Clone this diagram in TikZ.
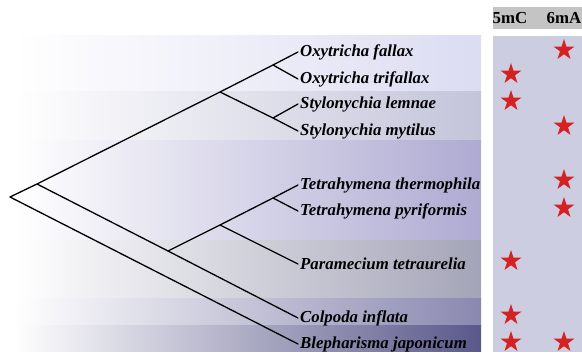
\documentclass[tikz,border=0pt]{standalone}
\usepackage{fontspec}
\setmainfont{Liberation Serif}
\usetikzlibrary{shapes.geometric}

\definecolor{bandA}{HTML}{DCDCF2}
\definecolor{bandB}{HTML}{C4C4DA}
\definecolor{bandC}{HTML}{AEAAD2}
\definecolor{bandD}{HTML}{A4A4B8}
\definecolor{bandE}{HTML}{8A88B0}
\definecolor{bandF}{HTML}{5A588A}
\definecolor{panel}{HTML}{CDCDE2}
\definecolor{head}{HTML}{C4C4C4}
\definecolor{starred}{HTML}{D42222}

\tikzset{
  branch/.style={line width=1.3pt,line cap=round},
  taxon/.style={anchor=west,inner sep=0pt,font=\fontsize{16.8}{18}\selectfont\bfseries\itshape},
  colhead/.style={inner sep=0pt,font=\fontsize{16.8}{18}\selectfont\bfseries},
  hit/.style={star,star points=5,star point ratio=2.6,fill=starred,inner sep=0pt,minimum size=22pt}
}

\begin{document}
\begin{tikzpicture}[x=1pt,y=-1pt]
  \useasboundingbox (0,0) rectangle (582,355);
  % background bands
  \shade[left color=white,right color=bandA] (14,36) rectangle (481,92);
  \shade[left color=white,right color=bandB] (14,92) rectangle (481,141);
  \shade[left color=white,right color=bandC] (14,141) rectangle (481,241);
  \shade[left color=white,right color=bandD] (14,241) rectangle (481,299);
  \shade[left color=white,right color=bandE] (14,299) rectangle (481,326);
  \shade[left color=white,right color=bandF] (14,326) rectangle (481,352);
  \fill[panel] (493,36) rectangle (582,352);
  \fill[head] (493,7) rectangle (582,29);
  \node[colhead] (h5mc) at (510,18) {5mC};
  \node[colhead] (h6ma) at (564,18) {6mA};

  % taxa
  \node[taxon] (ofal) at (300,52) {Oxytricha fallax};
  \node[taxon] (otri) at (300,79) {Oxytricha trifallax};
  \node[taxon] (slem) at (300,104) {Stylonychia lemnae};
  \node[taxon] (smyt) at (300,131) {Stylonychia mytilus};
  \node[taxon] (tthe) at (300,185) {Tetrahymena thermophila};
  \node[taxon] (tpyr) at (300,211) {Tetrahymena pyriformis};
  \node[taxon] (ptet) at (300,264) {Paramecium tetraurelia};
  \node[taxon] (cinf) at (300,318) {Colpoda inflata};
  \node[taxon] (bjap) at (300,344) {Blepharisma japonicum};

  % inner nodes of the tree
  \coordinate (root) at (10,197);
  \coordinate (cil) at (37,184);
  \coordinate (spiro) at (220,92);
  \coordinate (oxy) at (273,65);
  \coordinate (sty) at (273,118);
  \coordinate (olig) at (168,251);
  \coordinate (tpp) at (220,225);
  \coordinate (tet) at (273,198);

  \draw[branch] (root) -- (cil) -- (spiro) -- (oxy) -- ([xshift=-2pt]ofal.west);
  \draw[branch] (oxy) -- ([xshift=-2pt]otri.west);
  \draw[branch] (spiro) -- (sty) -- ([xshift=-2pt]slem.west);
  \draw[branch] (sty) -- ([xshift=-2pt]smyt.west);
  \draw[branch] (cil) -- (olig) -- ([xshift=-2pt]cinf.west);
  \draw[branch] (olig) -- (tpp) -- (tet) -- ([xshift=-2pt]tthe.west);
  \draw[branch] (tet) -- ([xshift=-2pt]tpyr.west);
  \draw[branch] (tpp) -- ([xshift=-2pt]ptet.west);
  \draw[branch] (root) -- ([xshift=-2pt]bjap.west);

  % marks
  \node[hit] (s1) at (564,50) {};
  \node[hit] (s2) at (511,74) {};
  \node[hit] (s3) at (511,101) {};
  \node[hit] (s4) at (564,126) {};
  \node[hit] (s5) at (564,180) {};
  \node[hit] (s6) at (564,208) {};
  \node[hit] (s7) at (511,261) {};
  \node[hit] (s8) at (511,315) {};
  \node[hit] (s9) at (511,342) {};
  \node[hit] (s10) at (564,342) {};
\end{tikzpicture}
\end{document}
